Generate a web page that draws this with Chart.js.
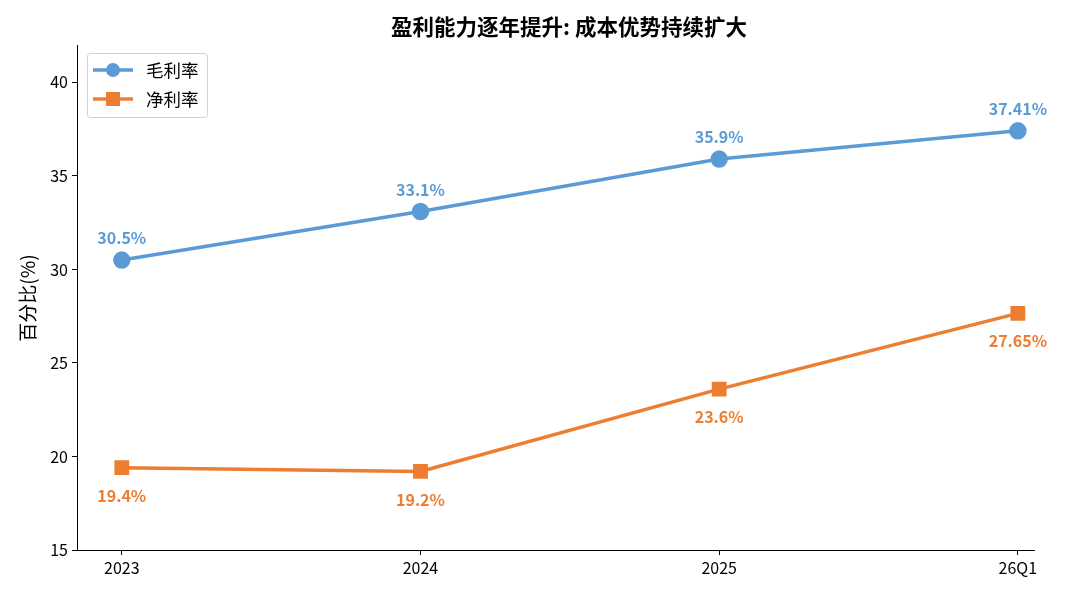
<!DOCTYPE html>
<html><head><meta charset="utf-8">
<script src="https://cdn.jsdelivr.net/npm/chart.js@4/dist/chart.umd.min.js"></script>
<style>html,body{margin:0;padding:0;background:#fff}canvas{display:block}</style>
</head><body>
<canvas id="c" width="1080" height="600"></canvas>
<script>
const categories = ["2023", "2024", "2025", "26Q1"];
const grossMargin = [30.5, 33.1, 35.9, 37.41];
const netMargin = [19.4, 19.2, 23.6, 27.65];
const grossLabels = ["30.5%", "33.1%", "35.9%", "37.41%"];
const netLabels = ["19.4%", "19.2%", "23.6%", "27.65%"];
const yTicks = [15, 20, 25, 30, 35, 40];
const seriesNames = ["毛利率", "净利率"];
const title = "盈利能力逐年提升: 成本优势持续扩大";
const yTitle = "百分比(%)";

const BLUE = "#5B9BD5", ORANGE = "#ED7D31";
const FONT = "'Noto Sans CJK SC', 'Noto Sans', sans-serif";

const overlay = {
  id: "overlay",
  afterDatasetsDraw(chart) {
    const ctx = chart.ctx;
    ctx.save();
    // title
    ctx.fillStyle = "#000";
    ctx.font = "bold 21.5px " + FONT;
    ctx.textAlign = "center";
    ctx.textBaseline = "middle";
    ctx.fillText(title, 569, 27);
    // y title
    ctx.save();
    ctx.translate(28, 298);
    ctx.rotate(-Math.PI / 2);
    ctx.font = "19px " + FONT;
    ctx.fillText(yTitle, 0, 0);
    ctx.restore();
    // data labels
    ctx.font = "bold 16px " + FONT;
    const m0 = chart.getDatasetMeta(0), m1 = chart.getDatasetMeta(1);
    ctx.fillStyle = BLUE;
    m0.data.forEach((p, i) => ctx.fillText(grossLabels[i], p.x, p.y - 22));
    ctx.fillStyle = ORANGE;
    m1.data.forEach((p, i) => ctx.fillText(netLabels[i], p.x, p.y + 28));
    // legend
    const lx = 87, ly = 53, lw = 120, lh = 64;
    ctx.beginPath();
    if (ctx.roundRect) ctx.roundRect(lx + 0.5, ly + 0.5, lw, lh, 3); else ctx.rect(lx + 0.5, ly + 0.5, lw, lh);
    ctx.fillStyle = "rgba(255,255,255,0.9)";
    ctx.fill();
    ctx.strokeStyle = "#d0d0d0";
    ctx.lineWidth = 1;
    ctx.stroke();
    const rows = [{ c: BLUE, y: 70, shape: "circle" }, { c: ORANGE, y: 99, shape: "square" }];
    rows.forEach((r, i) => {
      ctx.strokeStyle = r.c; ctx.lineWidth = 3.5;
      ctx.beginPath(); ctx.moveTo(93, r.y); ctx.lineTo(133, r.y); ctx.stroke();
      ctx.fillStyle = r.c;
      if (r.shape === "circle") { ctx.beginPath(); ctx.arc(113, r.y, 7, 0, Math.PI * 2); ctx.fill(); }
      else ctx.fillRect(106, r.y - 7, 14, 14);
      ctx.fillStyle = "#000"; ctx.font = "17.5px " + FONT; ctx.textAlign = "left";
      ctx.fillText(seriesNames[i], 146, r.y);
    });
    ctx.restore();
  }
};

new Chart(document.getElementById("c"), {
  type: "line",
  data: {
    datasets: [
      { label: seriesNames[0], data: grossMargin.map((v, i) => ({ x: i, y: v })), borderColor: BLUE, backgroundColor: BLUE, borderWidth: 3.5, pointStyle: "circle", pointRadius: 7, pointHoverRadius: 7, tension: 0 },
      { label: seriesNames[1], data: netMargin.map((v, i) => ({ x: i, y: v })), borderColor: ORANGE, backgroundColor: ORANGE, borderWidth: 3.5, pointStyle: "rect", pointRadius: 8, pointHoverRadius: 8, tension: 0 }
    ]
  },
  options: {
    responsive: false, animation: false, devicePixelRatio: 1,
    layout: { padding: { top: 45, right: 46, left: 0, bottom: 0 } },
    plugins: { legend: { display: false }, tooltip: { enabled: false }, title: { display: false } },
    scales: {
      x: {
        type: "linear", min: -0.15, max: 3.054,
        afterBuildTicks: s => { s.ticks = categories.map((_, i) => ({ value: i })); },
        afterFit: s => { s.height = 50; },
        ticks: { callback: v => categories[v], color: "#000", font: { size: 16, family: FONT }, padding: 3, maxRotation: 0, autoSkip: false },
        grid: { display: true, drawOnChartArea: false, drawTicks: true, tickLength: 5, color: "#000" },
        border: { display: true, color: "#000", width: 1 }
      },
      y: {
        min: 15, max: 42,
        afterBuildTicks: s => { s.ticks = yTicks.map(v => ({ value: v })); },
        afterFit: s => { s.width = 77; },
        ticks: { color: "#000", font: { size: 16, family: FONT }, padding: 4 },
        grid: { display: true, drawOnChartArea: false, drawTicks: true, tickLength: 5, color: "#000" },
        border: { display: true, color: "#000", width: 1 }
      }
    }
  },
  plugins: [overlay]
});
</script>
</body></html>
